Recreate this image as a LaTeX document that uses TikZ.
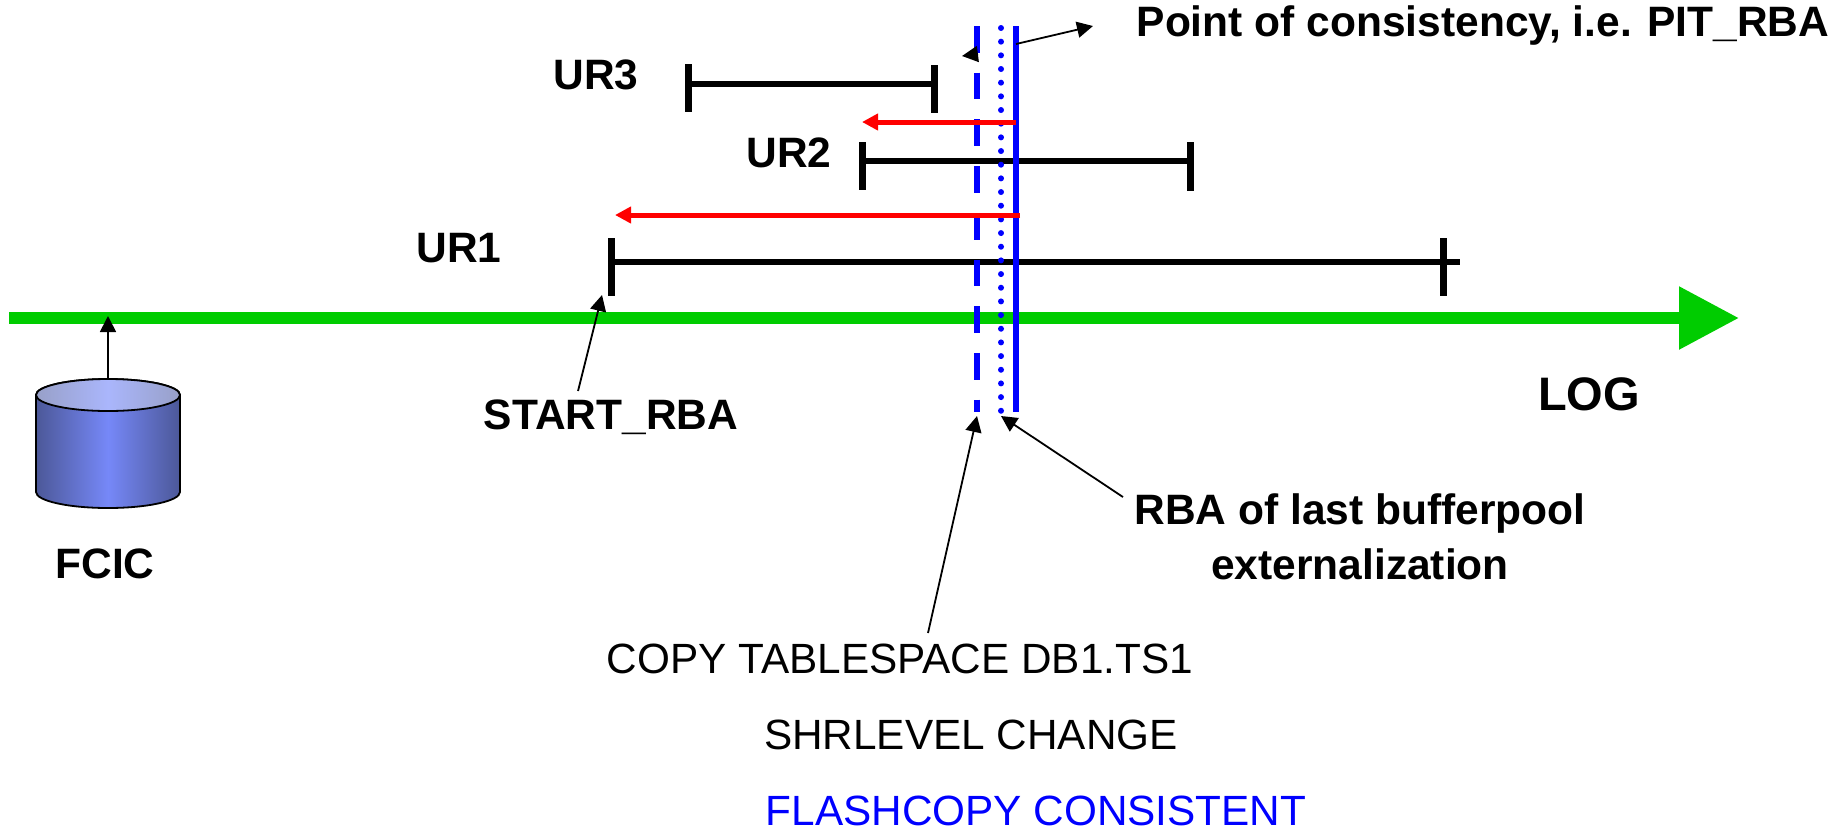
\documentclass[tikz,border=0pt]{standalone}
\usepackage{fontspec}
\setmainfont{Liberation Sans}
\usetikzlibrary{arrows.meta,calc}
\definecolor{dbedge}{RGB}{76,88,152}
\definecolor{dbmid}{RGB}{118,136,248}
\definecolor{dbtopedge}{RGB}{152,160,200}
\definecolor{dbtopmid}{RGB}{170,182,252}
\definecolor{loggreen}{RGB}{0,204,0}
\pgfdeclarehorizontalshading{dbbody}{100bp}{color(0bp)=(dbedge); color(25bp)=(dbedge); color(50bp)=(dbmid); color(75bp)=(dbedge); color(100bp)=(dbedge)}
\pgfdeclarehorizontalshading{dbtop}{100bp}{color(0bp)=(dbtopedge); color(25bp)=(dbtopedge); color(50bp)=(dbtopmid); color(75bp)=(dbtopedge); color(100bp)=(dbtopedge)}
\tikzset{
  boldtext/.style={font=\fontsize{42.5}{50}\selectfont\bfseries,inner sep=0pt},
  plaintext/.style={font=\fontsize{42.3}{50}\selectfont,inner sep=0pt},
  urbar/.style={line width=6pt,black},
  urtick/.style={line width=7pt,black},
  backarrow/.style={line width=5pt,red,-{Triangle[length=16pt,width=16pt]}},
  callout/.style={line width=1.8pt,black,-{Triangle[length=16pt,width=16pt]}},
  pitline/.style={line width=6.5pt,blue}
}
\begin{document}
\begin{tikzpicture}[x=1pt,y=-1pt]
  \useasboundingbox (0,0) rectangle (1835,831);
  \draw
    (596,75) node[boldtext] (ur3){UR3}
    (789,153) node[boldtext] (ur2){UR2}
    (459,248) node[boldtext] (ur1){UR1}
    (611,417) node[boldtext] (startrba){START\_RBA}
    (1589,394) node[boldtext,font=\fontsize{47}{50}\selectfont\bfseries] (log){LOG}
    (105,564) node[boldtext] (fcic){FCIC}
    (1483,26) node[boldtext] (pit){Point of consistency, i.e. PIT\_RBA}
    (1360,513) node[boldtext] (rba1){RBA of last bufferpool}
    (1360,564) node[boldtext] (rba2){externalization}
    (900,659) node[plaintext] (copy){COPY TABLESPACE DB1.TS1}
    (971,735) node[plaintext] (shrlevel){SHRLEVEL CHANGE}
    (1036,811) node[plaintext,text=blue] (flash){FLASHCOPY CONSISTENT};
  \path
    (9,318) coordinate (logstart)
    (1739,318) coordinate (logend)
    (108,316) coordinate (logfcic)
    (108,379) coordinate (dbtoppoint)
    (688,84) coordinate (ur3a)
    (934,84) coordinate (ur3b)
    (862,161) coordinate (ur2a)
    (1190,161) coordinate (ur2b)
    (611,262) coordinate (ur1a)
    (1443,262) coordinate (ur1b)
    (1460,262) coordinate (ur1end)
    (1016,122) coordinate (red2a)
    (862,122) coordinate (red2b)
    (1020,215) coordinate (red1a)
    (615,215) coordinate (red1b)
    (977,26) coordinate (dasha)
    (977,412) coordinate (dashb)
    (1001,28) coordinate (dota)
    (1001,412) coordinate (dotb)
    (1016,26) coordinate (sola)
    (1016,412) coordinate (solb)
    (1016,44) coordinate (pitfrom)
    (1093,26) coordinate (pitto)
    (978,54) coordinate (dashfrom)
    (962,56) coordinate (dashto)
    (578,391) coordinate (startfrom)
    (602,295) coordinate (startto)
    (928,633) coordinate (copyfrom)
    (977,416) coordinate (copyto)
    (1123,497) coordinate (rbafrom)
    (1001,416) coordinate (rbato);
  \draw[line width=1.8pt,shading=dbbody] (36,395) -- (36,492)
    arc [start angle=180,end angle=360,x radius=72pt,y radius=16pt] -- (180,395)
    arc [start angle=0,end angle=180,x radius=72pt,y radius=16pt] -- cycle;
  \draw[line width=1.8pt,shading=dbtop] (108,395) ellipse [x radius=72pt,y radius=16pt];
  \draw[line width=12pt,loggreen,-{Triangle[length=60pt,width=60pt]}] (logstart) to (logend);
  \begin{scope}[urbar]
    \draw (ur3a) to (ur3b);
    \draw (ur2a) to (ur2b);
    \draw (ur1a) to (ur1end);
  \end{scope}
  \begin{scope}[urtick]
    \draw ($(ur3a)+(0,-20)$) to ($(ur3a)+(0,28)$);
    \draw ($(ur3b)+(0,-19)$) to ($(ur3b)+(0,29)$);
    \draw ($(ur2a)+(0,-19)$) to ($(ur2a)+(0,29)$);
    \draw ($(ur2b)+(0,-19)$) to ($(ur2b)+(0,30)$);
    \draw ($(ur1a)+(0,-24)$) to ($(ur1a)+(0,34)$);
    \draw ($(ur1b)+(0,-24)$) to ($(ur1b)+(0,34)$);
  \end{scope}
  \draw[pitline,dash pattern=on 26.7pt off 20pt] (dasha) to (dashb);
  \draw[pitline,line width=6pt,line cap=round,dash pattern=on 0pt off 13.67pt] (dota) to (dotb);
  \draw[pitline] (sola) to (solb);
  \begin{scope}[backarrow]
    \draw (red2a) to (red2b);
    \draw (red1a) to (red1b);
  \end{scope}
  \begin{scope}[callout]
    \draw (dbtoppoint) to (logfcic);
    \draw (pitfrom) to (pitto);
    \draw (dashfrom) to (dashto);
    \draw (startfrom) to (startto);
    \draw (copyfrom) to (copyto);
    \draw (rbafrom) to (rbato);
  \end{scope}
\end{tikzpicture}
\end{document}
